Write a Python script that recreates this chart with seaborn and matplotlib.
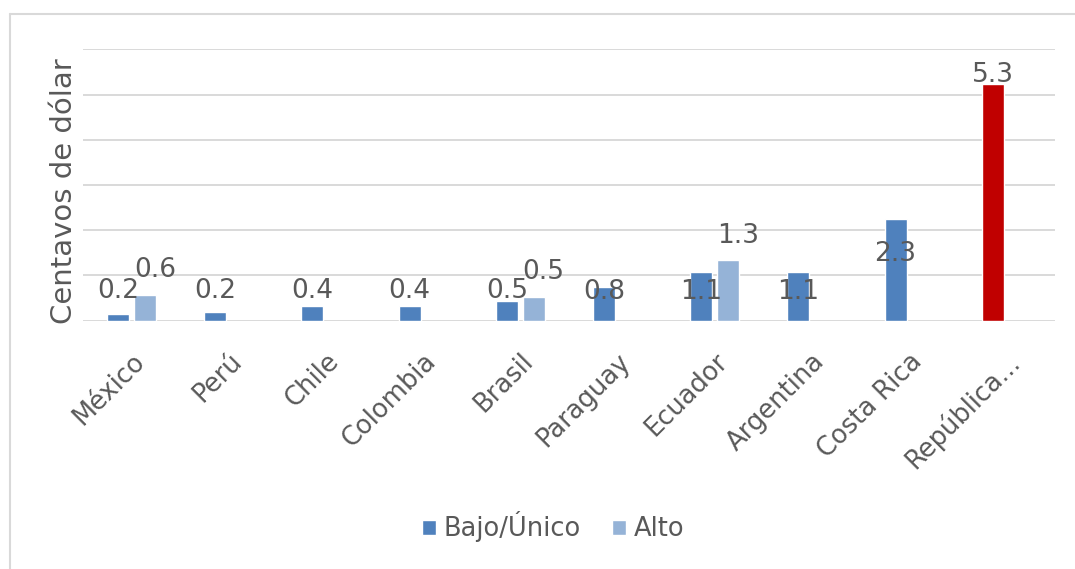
import numpy as np
import pandas as pd
import matplotlib
matplotlib.use('Agg')
import matplotlib.pyplot as plt
from matplotlib.lines import Line2D
import seaborn as sns

# Data
paises = ['México', 'Perú', 'Chile', 'Colombia', 'Brasil', 'Paraguay',
          'Ecuador', 'Argentina', 'Costa Rica', 'República...']
bajo = [0.14, 0.18, 0.33, 0.33, 0.43, 0.74, 1.07, 1.07, 2.25, 5.24]
alto = [0.56, np.nan, np.nan, np.nan, 0.51, np.nan, 1.33, np.nan, np.nan, np.nan]
etiquetas_bajo = ['0.2', '0.2', '0.4', '0.4', '0.5', '0.8', '1.1', '1.1', '2.3', '5.3']
etiquetas_alto = ['0.6', '', '', '', '0.5', '', '1.3', '', '', '']
series = ['Bajo/Único', 'Alto']

# Label heights as they sit in the original (Excel placed them oddly)
pos_etiq_bajo = [0.66, 0.66, 0.66, 0.66, 0.66, 0.64, 0.64, 0.64, 1.48, 5.44]
pos_etiq_alto = [1.12, None, None, None, 1.07, None, 1.88, None, None, None]

# Long format table for seaborn
filas = []
for p, b, a in zip(paises, bajo, alto):
    filas.append({'pais': p, 'serie': series[0], 'valor': b})
    if not np.isnan(a):
        filas.append({'pais': p, 'serie': series[1], 'valor': a})
df = pd.DataFrame(filas)

sns.set_theme(style='white')
plt.rcParams['font.family'] = ['DejaVu Sans']
gris = '#595959'

fig = plt.figure(figsize=(10.75, 5.69), dpi=100)
fig.patch.set_edgecolor('none')
ax = fig.add_axes([83 / 1075, 1 - 320.5 / 569, 972 / 1075, (320.5 - 49.3) / 569])

sns.barplot(data=df, x='pais', y='valor', hue='serie', order=paises,
            hue_order=series, palette=['#4F81BD', '#95B3D7'],
            width=0.56, gap=0.19, errorbar=None, ax=ax, legend=True,
            saturation=1)

# República in red
ax.containers[0].patches[-1].set_facecolor('#C00000')

ax.set_ylim(0, 6)
ax.set_yticks(range(0, 7))
ax.set_yticklabels([])
ax.yaxis.grid(True, color='#D9D9D9', lw=1.4)
ax.set_axisbelow(True)
for s in ax.spines.values():
    s.set_visible(False)
ax.tick_params(axis='both', length=0)
ax.set_xlabel('')
ax.set_ylabel('')
ax.set_xlim(-0.5, len(paises) - 0.5)

ax.set_xticks(range(len(paises)))
ax.set_xticklabels(paises, rotation=45, ha='right', va='top',
                   rotation_mode='anchor', fontsize=18.5, color=gris)
ax.tick_params(axis='x', pad=20)

# value labels
for rect, txt, yy in zip(ax.containers[0].patches, etiquetas_bajo, pos_etiq_bajo):
    ax.text(rect.get_x() + rect.get_width() / 2, yy, txt, ha='center', va='center',
            fontsize=19, color=gris)
alto_rects = ax.containers[1].patches
k = 0
for txt, yy in zip(etiquetas_alto, pos_etiq_alto):
    if yy is None:
        continue
    rect = alto_rects[k]
    k += 1
    ax.annotate(txt, (rect.get_x() + rect.get_width() / 2, yy),
                xytext=(7, 0), textcoords='offset points',
                ha='center', va='center', fontsize=19, color=gris)

fig.text(64 / 1075, 1 - 191 / 569, 'Centavos de dólar', rotation=90,
         ha='center', va='center', fontsize=21, color=gris)

handles, labels = ax.get_legend_handles_labels()
ax.get_legend().remove()
leg = fig.legend(handles, labels, loc='center', bbox_to_anchor=(553 / 1075, 1 - 527 / 569),
                 ncol=2, frameon=False, fontsize=18.5, handlelength=0.55, handleheight=0.55,
                 handletextpad=0.3, columnspacing=1.2)
for t in leg.get_texts():
    t.set_color(gris)

# outer chart frame (cropped at right and bottom)
x0, y0 = 9.5 / 1075, 1 - 13.5 / 569
fig.add_artist(Line2D([x0, x0], [-0.05, y0], transform=fig.transFigure, color='#D9D9D9', lw=1.5))
fig.add_artist(Line2D([x0, 1.05], [y0, y0], transform=fig.transFigure, color='#D9D9D9', lw=1.5))

fig.savefig('out.png', dpi=100)
